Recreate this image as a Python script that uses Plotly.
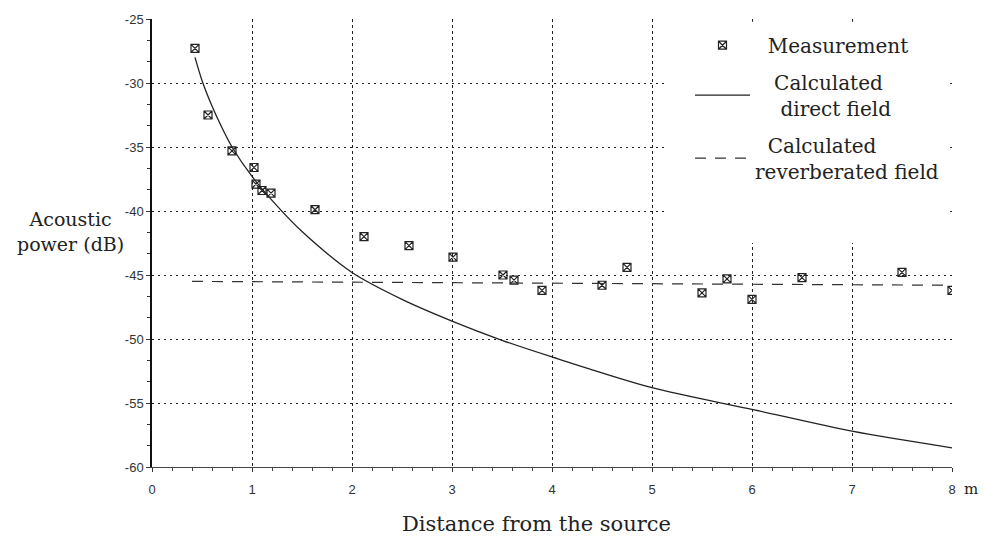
import plotly.graph_objects as go

# ---- data ----
meas_dist = [0.43, 0.56, 0.80, 1.02, 1.04, 1.10, 1.19, 1.63, 2.12, 2.57, 3.01, 3.51,
             3.62, 3.90, 4.50, 4.75, 5.50, 5.75, 6.00, 6.50, 7.50, 8.00]
meas_db = [-27.3, -32.5, -35.3, -36.6, -37.9, -38.4, -38.6, -39.9, -42.0, -42.7, -43.6, -45.0,
           -45.4, -46.2, -45.8, -44.4, -46.4, -45.3, -46.9, -45.2, -44.8, -46.2]

direct_dist = [0.43, 0.5, 0.6, 0.7, 0.8, 1.0, 1.25, 1.5, 2.0, 2.5, 3.0, 3.5, 4.0, 5.0, 6.0, 7.0, 8.0]
direct_db = [-28.0, -29.8, -31.8, -33.5, -35.0, -37.3, -39.6, -41.6, -44.8, -46.9, -48.6,
             -50.1, -51.4, -53.8, -55.5, -57.2, -58.5]

reverb_dist = [0.40, 8.0]
reverb_db = [-45.5, -45.8]

y_ticks = [-60, -55, -50, -45, -40, -35, -30, -25]
y_tick_text = ["-60", "-55", "-50", "-45", "-40", "-35", "-30", "-25"]
x_ticks = [0, 1, 2, 3, 4, 5, 6, 7, 8]

SERIF = "DejaVu Serif"
INK = "#222222"
SP = "\u00a0"

fig = go.Figure()
fig.add_trace(go.Scatter(
    x=meas_dist, y=meas_db, mode="markers", name=SP * 2 + "Measurement",
    legendgroup="a",
    marker=dict(symbol="square-x-open", size=8, color=INK, line=dict(width=1.2, color=INK)),
))
fig.add_trace(go.Scatter(
    x=direct_dist, y=direct_db, mode="lines",
    name=SP * 3 + "Calculated<br>" + SP * 4 + "direct field",
    legendgroup="b",
    line=dict(color=INK, width=1.3, shape="spline", smoothing=0.8),
))
fig.add_trace(go.Scatter(
    x=reverb_dist, y=reverb_db, mode="lines",
    name=SP * 2 + "Calculated<br>reverberated field",
    legendgroup="c",
    line=dict(color="#333333", width=1.2, dash="11px,9px"),
))

# white area behind the legend hiding the grid (no data lies there)
fig.add_shape(type="rect", xref="paper", yref="paper",
              x0=0.645, x1=0.994, y0=0.50, y1=0.994,
              fillcolor="white", line=dict(width=0), layer="above")

fig.update_layout(
    width=984, height=542,
    margin=dict(l=152, r=32, t=13, b=75),
    paper_bgcolor="white", plot_bgcolor="white",
    font=dict(family=SERIF, color=INK, size=18),
    showlegend=True,
    legend=dict(
        x=0.6725, y=0.985, xanchor="left", yanchor="top",
        bgcolor="rgba(0,0,0,0)", borderwidth=0,
        font=dict(family=SERIF, size=20, color=INK),
        tracegroupgap=8, itemwidth=55,
    ),
    xaxis=dict(
        range=[0, 8], tickvals=x_ticks,
        showgrid=True, gridcolor=INK, gridwidth=1, griddash="3px,3px",
        zeroline=False, showline=True, linecolor="#444444", linewidth=1,
        ticks="outside", ticklen=4, tickcolor="#333333",
        minor=dict(dtick=0.2, ticks="outside", ticklen=3, tickcolor="#444444", showgrid=False),
        tickfont=dict(family="Liberation Sans", size=13, color="#333333"),
        ticklabelstandoff=6,
    ),
    yaxis=dict(
        range=[-60, -25], tickvals=y_ticks, ticktext=y_tick_text,
        showgrid=True, gridcolor=INK, gridwidth=1, griddash="2px,4px",
        zeroline=False, showline=True, linecolor="#111111", linewidth=1.5,
        ticks="outside", ticklen=4, tickcolor="#333333",
        minor=dict(dtick=5/3, ticks="outside", ticklen=3, tickcolor="#333333", showgrid=False),
        tickfont=dict(family="Liberation Sans", size=13, color="#333333"),
    ),
    annotations=[
        dict(text="Acoustic<br>power (dB)", xref="paper", yref="paper",
             x=-0.1025, y=0.526, xanchor="center", yanchor="middle",
             showarrow=False, align="center",
             font=dict(family=SERIF, size=19, color=INK)),
        dict(text="Distance from the source", xref="paper", yref="paper",
             x=0.481, y=-0.128, xanchor="center", yanchor="middle", showarrow=False,
             font=dict(family=SERIF, size=21, color=INK)),
        dict(text="m", xref="paper", yref="paper",
             x=1.0125, y=-0.0485, xanchor="left", yanchor="middle", showarrow=False,
             font=dict(family=SERIF, size=15, color=INK)),
    ],
)

fig.write_html("out.html")
